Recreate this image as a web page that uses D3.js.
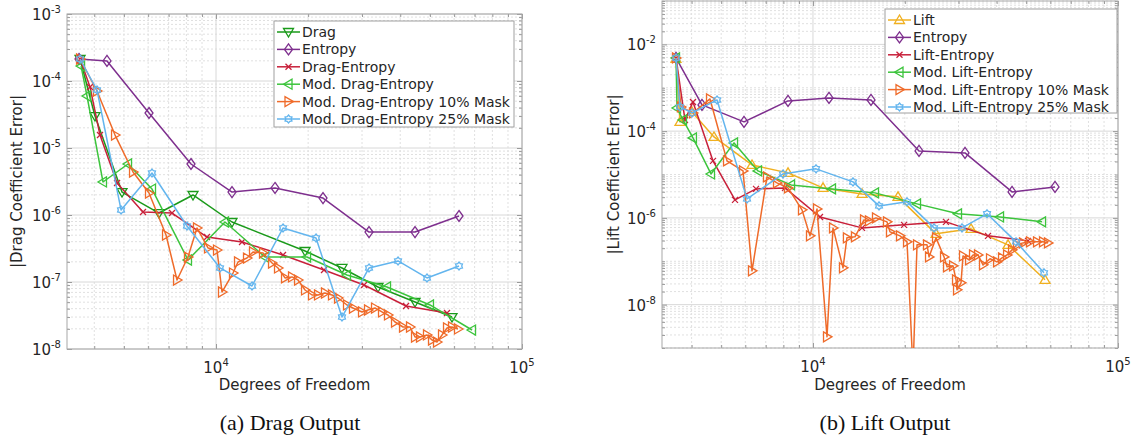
<!DOCTYPE html>
<html>
<head>
<meta charset="utf-8">
<script src="https://cdn.jsdelivr.net/npm/d3@7"></script>
<style>
body{margin:0;background:#fff}
text{font-family:"DejaVu Sans",sans-serif;fill:#262626}
</style>
</head>
<body>
<svg id="fig" width="1135" height="441"></svg>
<script>
// ---- (a) drag output ----
var dragDof = [3594,4022,4929,6510,8409,11278,19539,25804,33837,44706,59050];
var dragErr = [2.13e-4,3.0e-5,2.2e-6,1.07e-6,1.99e-6,7.86e-7,2.9e-7,1.62e-7,8.42e-8,5.03e-8,3.0e-8];
var entropyDof = [3566,4402,6039,8283,11278,15588,22370,31623,44706,62250];
var entropyErr = [2.13e-4,1.99e-4,3.33e-5,5.77e-6,2.2e-6,2.53e-6,1.79e-6,5.57e-7,5.57e-7,9.66e-7];
var dragEntDof = [3594,3874,4176,4748,5772,7182,9344,12161,16557,22537,30457,41779,56875];
var dragEntErr = [2.13e-4,8.14e-5,1.56e-5,3.0e-6,1.11e-6,1.07e-6,4.69e-7,3.95e-7,2.53e-7,1.51e-7,9.02e-8,4.38e-8,3.45e-8];
var modDragDof = [3622,3787,4271,5157,6177,8097,10699,14458,19836,26796,36209,50035,68660];
var modDragErr = [1.67e-4,5.97e-5,3.11e-6,5.77e-6,2.44e-6,2.13e-7,7.86e-7,2.36e-7,2.36e-7,1.27e-7,8.42e-8,4.54e-8,1.92e-8];
var dragM10Dof = [3594,4083,4677,5355,6039,6864,7457,8097,8665,9414,10074,10459,11363,11799,12625,13209,14242,15241,15944,16807,17716,18535,19539,20594,21544,22706,23936,25041,26796,28031,29999,31384,33082,34873,36482,38459,40848,43057,44706,46416,48920,50800,52750,54776,56875,59050,61780];
var dragM10Err = [2.13e-4,7.09e-5,1.56e-5,4.38e-6,2.13e-6,5.03e-7,1.07e-7,2.36e-7,6.4e-7,3.22e-7,3.0e-7,7.09e-8,1.36e-7,1.99e-7,2.28e-7,2.81e-7,2.71e-7,1.92e-7,1.62e-7,1.15e-7,1.19e-7,1.07e-7,7.6e-8,6.4e-8,6.4e-8,6.85e-8,6.4e-8,5.77e-8,4.54e-8,4.09e-8,3.57e-8,3.82e-8,4.09e-8,3.57e-8,3.22e-8,2.53e-8,2.13e-8,2.13e-8,1.51e-8,1.51e-8,1.62e-8,1.36e-8,1.27e-8,1.62e-8,2.06e-8,2.13e-8,1.99e-8];
var dragM25Dof = [3594,4083,4893,6177,8037,10304,13110,16557,21223,25804,31623,39339,48920,62250];
var dragM25Err = [2.13e-4,7.34e-5,1.19e-6,4.23e-6,6.85e-7,1.62e-7,8.72e-8,6.4e-7,4.54e-7,3.0e-8,1.62e-7,2.06e-7,1.15e-7,1.73e-7];

// ---- (b) lift output ----
var liftDof = [3556,3664,4012,4737,6311,8282,10787,14481,19000,25317,32972,43602,57646];
var liftErr = [4.61e-3,1.63e-4,2.77e-4,7.35e-5,1.66e-5,1.09e-5,4.91e-6,3.57e-6,3.05e-6,4.28e-7,5.58e-7,2.39e-7,3.73e-8];
var entropyRDof = [3556,4326,5941,8282,11286,15496,22266,31509,44938,62155];
var entropyRErr = [4.86e-3,4.02e-4,1.63e-4,4.97e-4,5.82e-4,5.24e-4,3.5e-5,3.15e-5,3.97e-6,5.18e-6];
var liftEntDof = [3556,3805,4042,4701,5551,6504,8097,10544,14481,19881,27303,37486,50699];
var liftEntErr = [4.86e-3,1.81e-4,4.71e-4,2.06e-5,2.6e-6,4.66e-6,4.91e-6,1.05e-6,5.88e-7,6.9e-7,8.09e-7,3.85e-7,2.95e-7];
var modLiftDof = [3556,3583,3748,4042,4631,5510,6603,8472,11544,15972,21933,29889,41045,56355];
var modLiftErr = [4.86e-3,3.42e-4,1.81e-4,6.97e-5,1.03e-5,5.35e-5,1.21e-5,5.76e-6,4.66e-6,3.77e-6,2.1e-6,1.24e-6,1.05e-6,8.09e-7];
var liftM10Dof = [3556,3692,4042,4596,5226,5897,6311,7067,7621,8282,9204,9777,10308,11117,11632,12545,12920,13730,14700,15260,16090,17484,17883,19290,20339,21281,21933,23652,24012,25317,26892,27510,28784,29444,29666,30572,31037,32478,33474,34760,36098,38058,40128,41671,43275,44938,46662,48812,51474,54265,56780,58962];
var liftM10Err = [4.86e-3,3.61e-4,2.63e-4,5.52e-4,2.06e-5,1.21e-5,6.01e-8,8.81e-6,6.41e-6,4.91e-6,1.53e-6,3.85e-7,1.61e-6,1.81e-9,5.88e-7,7.05e-8,3.46e-7,3.65e-7,8.99e-7,8.53e-7,1.0e-6,8.09e-7,4.76e-7,3.85e-7,2.8e-7,3.0e-10,2.39e-7,2.39e-7,1.26e-7,3.46e-7,1.26e-7,7.43e-8,7.83e-8,3.73e-8,2.19e-8,3.18e-8,1.33e-7,1.08e-7,1.4e-7,1.4e-7,8.26e-8,1.14e-7,9.69e-8,1.2e-7,1.4e-7,1.83e-7,2.39e-7,2.65e-7,2.8e-7,2.8e-7,2.8e-7,2.65e-7];
var liftM25Dof = [3556,3664,4012,4846,6078,7975,10233,13527,16462,20339,24937,30803,37205,46317,57210];
var liftM25Err = [4.86e-3,3.61e-4,2.63e-4,5.24e-4,2.74e-6,1.03e-5,1.35e-5,6.75e-6,1.89e-6,2.34e-6,5.88e-7,5.88e-7,1.24e-6,2.8e-7,5.4e-8];

// ---- names / ticks ----
var leftNames = ["Drag","Entropy","Drag-Entropy","Mod. Drag-Entropy","Mod. Drag-Entropy 10% Mask","Mod. Drag-Entropy 25% Mask"];
var rightNames = ["Lift","Entropy","Lift-Entropy","Mod. Lift-Entropy","Mod. Lift-Entropy 10% Mask","Mod. Lift-Entropy 25% Mask"];
var xTickExps = [4,5];
var leftYTickExps = [-8,-7,-6,-5,-4,-3];
var rightYTickExps = [-8,-6,-4,-2];

var colors = {drag:"#1a9a1a", entropy:"#7e2f8e", mixed:"#c8203a", mod:"#3cc43c",
              m10:"#ef6b2a", m25:"#63b5ee", lift:"#f0b020"};

var svg = d3.select("#fig");

function markerPath(type){
  if(type=="up") return "M-5,3.5L5,3.5L0,-5Z";
  if(type=="down") return "M-5,-3.5L5,-3.5L0,5Z";
  if(type=="left") return "M3.5,-5L3.5,5L-5,0Z";
  if(type=="right") return "M-3.5,-5L-3.5,5L5,0Z";
  if(type=="diamond") return "M0,-5.5L4,0L0,5.5L-4,0Z";
  if(type=="x") return "M-3,-3L3,3M-3,3L3,-3";
  // hexagram
  var pts = [];
  for(var i=0;i<12;i++){
    var r = i%2==0 ? 4 : 2.7;
    var a = -Math.PI/2 + i*Math.PI/6;
    pts.push([r*Math.cos(a), r*Math.sin(a)]);
  }
  return "M"+pts.map(function(p){return p[0].toFixed(2)+","+p[1].toFixed(2);}).join("L")+"Z";
}

function supLabel(sel, exp){
  sel.text("10");
  sel.append("tspan").attr("dy",-7).attr("font-size",10).text(exp);
}

function panel(p){
  var x = d3.scaleLog().domain(p.xDomain).range([p.left,p.right]);
  var y = d3.scaleLog().domain(p.yDomain).range([p.bottom,p.top]);
  var g = svg.append("g");
  var w = p.right-p.left, h = p.bottom-p.top;

  g.append("rect").attr("x",p.left).attr("y",p.top).attr("width",w).attr("height",h).attr("fill","#fff");

  // tick value lists
  var xMajor = [], xMinor = [], yMajor = [], yMinor = [];
  var d;
  for(d=3; d<=5; d++){
    for(var k=1;k<10;k++){
      var v = k*Math.pow(10,d);
      if(v<p.xDomain[0]||v>p.xDomain[1]) continue;
      if(k==1) xMajor.push(v); else xMinor.push(v);
    }
  }
  for(d=Math.floor(Math.log10(p.yDomain[0])); d<=Math.ceil(Math.log10(p.yDomain[1])); d++){
    for(var k2=1;k2<10;k2++){
      var v2 = k2*Math.pow(10,d);
      if(v2<p.yDomain[0]*0.999||v2>p.yDomain[1]*1.001) continue;
      if(k2==1 && p.yExps.indexOf(d)>=0) yMajor.push(v2); else yMinor.push(v2);
    }
  }

  // grid
  g.selectAll(".gxm").data(xMinor).enter().append("line")
    .attr("x1",function(v){return x(v);}).attr("x2",function(v){return x(v);})
    .attr("y1",p.top).attr("y2",p.bottom).attr("stroke","#e0e0e0").attr("stroke-dasharray","2,2");
  g.selectAll(".gym").data(yMinor).enter().append("line")
    .attr("y1",function(v){return y(v);}).attr("y2",function(v){return y(v);})
    .attr("x1",p.left).attr("x2",p.right).attr("stroke","#e0e0e0").attr("stroke-dasharray","2,2");
  g.selectAll(".gxM").data(xMajor).enter().append("line")
    .attr("x1",function(v){return x(v);}).attr("x2",function(v){return x(v);})
    .attr("y1",p.top).attr("y2",p.bottom).attr("stroke","#d8d8d8");
  g.selectAll(".gyM").data(yMajor).enter().append("line")
    .attr("y1",function(v){return y(v);}).attr("y2",function(v){return y(v);})
    .attr("x1",p.left).attr("x2",p.right).attr("stroke","#d8d8d8");

  // inward ticks on all four sides
  function ticks(axisFn, scale, vals, size, tr){
    var a = axisFn(scale).tickValues(vals).tickSize(size).tickFormat("");
    var t = g.append("g").attr("transform",tr).call(a);
    t.select(".domain").remove();
    t.selectAll("line").attr("stroke","#9a9a9a");
  }
  ticks(d3.axisBottom, x, xMajor, -5, "translate(0,"+p.bottom+")");
  ticks(d3.axisBottom, x, xMinor, -3, "translate(0,"+p.bottom+")");
  ticks(d3.axisTop, x, xMajor, -5, "translate(0,"+p.top+")");
  ticks(d3.axisTop, x, xMinor, -3, "translate(0,"+p.top+")");
  ticks(d3.axisLeft, y, yMajor, -5, "translate("+p.left+",0)");
  ticks(d3.axisLeft, y, yMinor, -3, "translate("+p.left+",0)");
  ticks(d3.axisRight, y, yMajor, -5, "translate("+p.right+",0)");
  ticks(d3.axisRight, y, yMinor, -3, "translate("+p.right+",0)");

  g.append("rect").attr("x",p.left).attr("y",p.top).attr("width",w).attr("height",h)
    .attr("fill","none").attr("stroke","#a8a8a8");

  // tick labels
  xTickExps.forEach(function(e){
    var t = g.append("text").attr("x",x(Math.pow(10,e))).attr("y",p.bottom+24)
      .attr("text-anchor","middle").attr("font-size",15);
    supLabel(t, String(e));
  });
  p.yExps.forEach(function(e){
    var t = g.append("text").attr("x",p.left-6).attr("y",y(Math.pow(10,e))+6)
      .attr("text-anchor","end").attr("font-size",15);
    supLabel(t, String(e));
  });

  // axis labels
  g.append("text").attr("x",(p.left+p.right)/2).attr("y",390).attr("text-anchor","middle")
    .attr("font-size",15).text("Degrees of Freedom");
  g.append("text").attr("transform","translate("+p.yLabelX+","+((p.top+p.bottom)/2)+") rotate(-90)")
    .attr("text-anchor","middle").attr("font-size",15).text(p.yLabel);
  g.append("text").attr("x",p.captionX).attr("y",430).attr("text-anchor","middle")
    .attr("font-size",22).style("font-family","'Liberation Serif',serif").style("fill","#111")
    .text(p.caption);

  // series
  var clipId = "clip"+p.id;
  svg.append("clipPath").attr("id",clipId).append("rect")
    .attr("x",p.left).attr("y",p.top).attr("width",w).attr("height",h);
  var plot = g.append("g").attr("clip-path","url(#"+clipId+")");
  var line = d3.line().x(function(d){return x(d[0]);}).y(function(d){return y(d[1]);});

  p.series.forEach(function(s){
    var pts = s.dof.map(function(v,i){return [v, s.err[i]];});
    plot.append("path").datum(pts).attr("d",line).attr("fill","none")
      .attr("stroke",s.color).attr("stroke-width",1.5).attr("stroke-linejoin","round");
    plot.selectAll(null).data(pts).enter().append("path")
      .attr("transform",function(d){return "translate("+x(d[0])+","+y(d[1])+")";})
      .attr("d",markerPath(s.marker)).attr("fill","none")
      .attr("stroke",s.color).attr("stroke-width",1.3);
  });

  // legend
  var L = p.legend;
  var lg = g.append("g");
  lg.append("rect").attr("x",L.x).attr("y",L.y).attr("width",L.w).attr("height",L.h)
    .attr("fill","#fff").attr("stroke","#a0a0a0");
  p.series.forEach(function(s,i){
    var cy = L.y + 11 + i*17.4;
    lg.append("line").attr("x1",L.x+3).attr("x2",L.x+26).attr("y1",cy).attr("y2",cy)
      .attr("stroke",s.color).attr("stroke-width",1.5);
    lg.append("path").attr("transform","translate("+(L.x+14.5)+","+cy+")")
      .attr("d",markerPath(s.marker)).attr("fill","none").attr("stroke",s.color).attr("stroke-width",1.3);
    lg.append("text").attr("x",L.x+28).attr("y",cy+5).attr("font-size",14).text(s.name);
  });
}

panel({
  id:"a", left:67, right:522, top:14, bottom:349,
  xDomain:[3258,1e5], yDomain:[1e-8,1e-3], yExps:leftYTickExps,
  yLabel:"|Drag Coefficient Error|", yLabelX:22, caption:"(a) Drag Output", captionX:290,
  legend:{x:274, y:21, w:240, h:106},
  series:[
    {name:leftNames[0], dof:dragDof, err:dragErr, color:colors.drag, marker:"down"},
    {name:leftNames[1], dof:entropyDof, err:entropyErr, color:colors.entropy, marker:"diamond"},
    {name:leftNames[2], dof:dragEntDof, err:dragEntErr, color:colors.mixed, marker:"x"},
    {name:leftNames[3], dof:modDragDof, err:modDragErr, color:colors.mod, marker:"left"},
    {name:leftNames[4], dof:dragM10Dof, err:dragM10Err, color:colors.m10, marker:"right"},
    {name:leftNames[5], dof:dragM25Dof, err:dragM25Err, color:colors.m25, marker:"hex"}
  ]
});

panel({
  id:"b", left:662, right:1118, top:1, bottom:348,
  xDomain:[3199,1e5], yDomain:[1e-9,1e-1], yExps:rightYTickExps,
  yLabel:"|Lift Coefficient Error|", yLabelX:619, caption:"(b) Lift Output", captionX:885,
  legend:{x:885, y:9, w:232, h:104},
  series:[
    {name:rightNames[0], dof:liftDof, err:liftErr, color:colors.lift, marker:"up"},
    {name:rightNames[1], dof:entropyRDof, err:entropyRErr, color:colors.entropy, marker:"diamond"},
    {name:rightNames[2], dof:liftEntDof, err:liftEntErr, color:colors.mixed, marker:"x"},
    {name:rightNames[3], dof:modLiftDof, err:modLiftErr, color:colors.mod, marker:"left"},
    {name:rightNames[4], dof:liftM10Dof, err:liftM10Err, color:colors.m10, marker:"right"},
    {name:rightNames[5], dof:liftM25Dof, err:liftM25Err, color:colors.m25, marker:"hex"}
  ]
});
</script>
</body>
</html>
